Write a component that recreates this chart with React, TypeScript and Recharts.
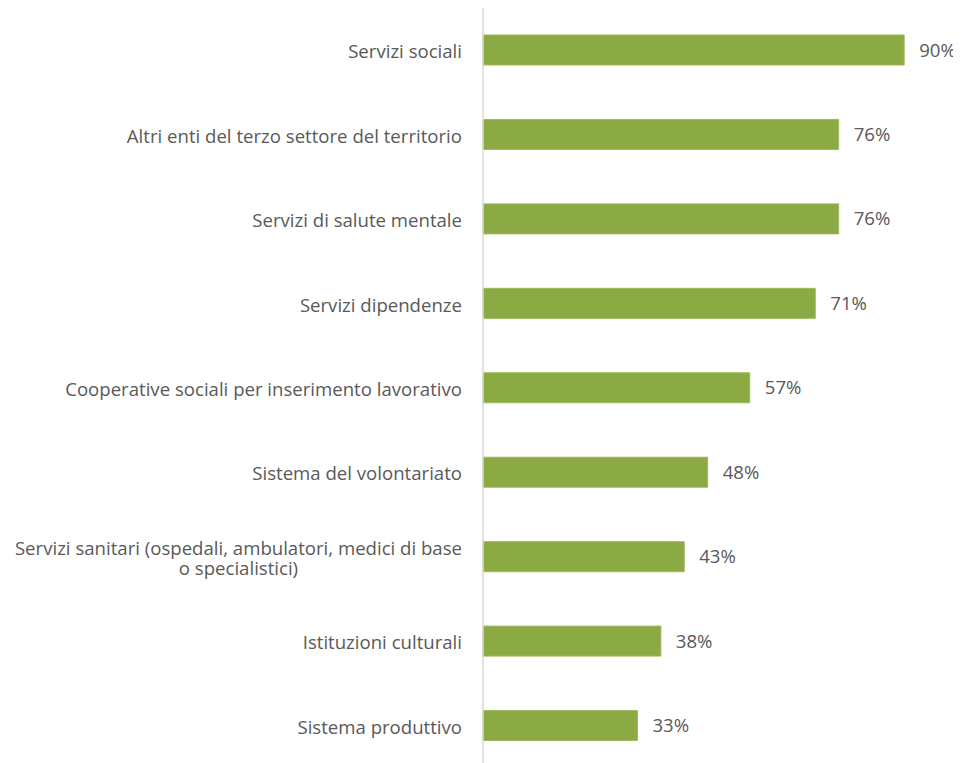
import { useLayoutEffect, useRef, useState } from "react";
import { Bar, BarChart, LabelList, XAxis, YAxis } from "recharts";

const categories = [
  "Servizi sociali",
  "Altri enti del terzo settore del territorio",
  "Servizi di salute mentale",
  "Servizi dipendenze",
  "Cooperative sociali per inserimento lavorativo",
  "Sistema del volontariato",
  "Servizi sanitari (ospedali, ambulatori, medici di base o specialistici)",
  "Istituzioni culturali",
  "Sistema produttivo",
];

const shares = [0.9, 0.76, 0.76, 0.71, 0.57, 0.48, 0.43, 0.38, 0.33];

const data = categories.map((name, i) => ({ name, value: shares[i] }));

const FONT = "'Open Sans', sans-serif";
const GREY = "#595959";
const MAX_CHARS = 55;

// split a label into lines of at most MAX_CHARS characters, on word breaks
function wrap(label: string): string[] {
  const lines: string[] = [];
  let cur = "";
  for (const word of label.split(" ")) {
    const next = cur ? `${cur} ${word}` : word;
    if (next.length > MAX_CHARS && cur) {
      lines.push(cur);
      cur = word;
    } else {
      cur = next;
    }
  }
  if (cur) lines.push(cur);
  return lines;
}

// right-aligned block, lines centred on each other (like Excel's wrapped labels)
function CategoryTick(props: any) {
  const { x, y, payload } = props;
  const lines = wrap(payload.value);
  const right = x - 13;
  const lh = 20;
  const startDy = -((lines.length - 1) * lh) / 2;
  const ref = useRef<SVGTextElement>(null);
  const [blockW, setBlockW] = useState(0);

  useLayoutEffect(() => {
    if (!ref.current || lines.length < 2) return;
    const spans = Array.from(ref.current.querySelectorAll("tspan")) as SVGTSpanElement[];
    const w = Math.max(...spans.map((s) => s.getComputedTextLength()));
    if (Math.abs(w - blockW) > 0.5) setBlockW(w);
  });

  const multi = lines.length > 1 && blockW > 0;
  const cx = right - blockW / 2;

  return (
    <text
      ref={ref}
      x={right}
      y={y}
      textAnchor={multi ? "middle" : "end"}
      dominantBaseline="central"
      fill={GREY}
      fontSize={18.6}
      fontFamily={FONT}
    >
      {lines.map((line, i) => (
        <tspan key={i} x={multi ? cx : right} dy={i === 0 ? startDy : lh}>
          {line}
        </tspan>
      ))}
    </text>
  );
}

export default function App() {
  return (
    <BarChart
      width={953}
      height={760}
      data={data}
      layout="vertical"
      margin={{ top: 0, right: 10, bottom: 0, left: 0 }}
      barCategoryGap={27}
    >
      <XAxis type="number" domain={[0, 1]} hide />
      <YAxis
        type="category"
        dataKey="name"
        width={475}
        axisLine={{ stroke: "#D9D9D9", strokeWidth: 1.5 }}
        tickLine={false}
        tick={<CategoryTick />}
        interval={0}
      />
      <Bar dataKey="value" fill="#8BAA44" stroke="#9CBA5A" strokeWidth={1} isAnimationActive={false}>
        <LabelList
          dataKey="value"
          position="right"
          offset={15}
          fill={GREY}
          fontSize={18.6}
          fontFamily={FONT}
          formatter={(v: any) => `${Math.round(Number(v) * 100)}%`}
        />
      </Bar>
    </BarChart>
  );
}
